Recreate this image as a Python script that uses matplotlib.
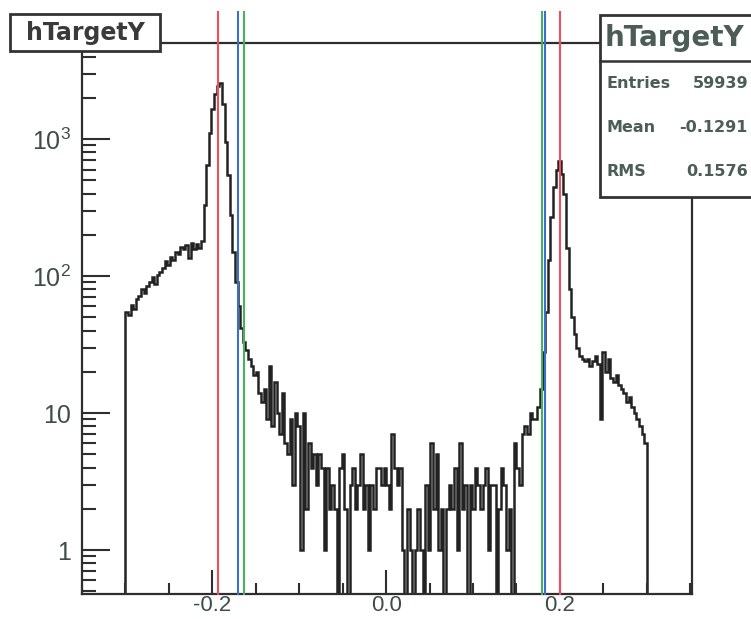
import numpy as np
import matplotlib
matplotlib.use("Agg")
from matplotlib import pyplot as plt
from matplotlib.patches import Rectangle

# histogram binning (-0.3 .. 0.3, 200 bins)
x_lo, x_hi, n_bins = -0.3, 0.3, 200

# counts per bin
counts_left = [55, 52, 62, 58, 68, 72, 80, 75, 85, 90,
               98, 88, 102, 108, 115, 128, 120, 138, 132, 150,
               145, 162, 158, 170, 135, 175, 158, 172, 160, 180,
               330, 650, 1100, 1650, 2150, 2450, 2550, 1800, 950, 550,
               280, 150, 90, 60, 42, 33, 29, 25, 22, 19,
               20, 14, 12, 15, 9, 22, 8, 17, 10, 7]
counts_mid = [14, 6, 5, 9, 3, 10, 8, 1, 10, 2,
              6, 4, 5, 3, 5, 4, 1, 4, 2, 3,
              2, 0, 4, 5, 2, 0, 3, 4, 2, 3,
              5, 2, 3, 1, 3, 2, 4, 4, 3, 4,
              3, 2, 7, 4, 3, 4, 1, 0, 2, 1,
              0, 1, 2, 1, 0, 3, 1, 6, 2, 5,
              1, 2, 0, 2, 3, 2, 4, 1, 6, 2,
              3, 0, 3, 2, 4, 3, 2, 3, 4, 1,
              3, 3, 0, 2, 4, 3, 1, 2, 0, 6]
counts_right = [4, 3, 7, 8, 7, 10, 9, 9, 11, 15,
                28, 55, 130, 270, 450, 600, 690, 560, 400, 160,
                80, 50, 38, 30, 26, 25, 24, 25, 22, 24,
                26, 23, 9, 28, 20, 25, 18, 17, 19, 16,
                15, 14, 12, 13, 11, 10, 9, 8, 7, 6]

# cut lines
red_cuts = [-0.193, 0.200]
blue_cuts = [-0.171, 0.183]
green_cuts = [-0.164, 0.179]

y_ticks = [1, 10, 100, 1000]
y_labels = ["1", "10", "$10^{2}$", "$10^{3}$"]
x_ticks = [-0.2, 0.0, 0.2]
x_labels = ["-0.2", "0.0", "0.2"]

stat_names = ["Entries", "Mean", "RMS"]
stat_values = ["59939", "-0.1291", "0.1576"]
hist_name = "hTargetY"

counts = np.array(counts_left + counts_mid + counts_right, dtype=float)
edges = np.linspace(x_lo, x_hi, n_bins + 1)

plt.rcParams["mathtext.fontset"] = "custom"
plt.rcParams["mathtext.rm"] = "Liberation Sans"
plt.rcParams["mathtext.it"] = "Liberation Sans"

W, H = 751, 619
fig = plt.figure(figsize=(W / 100, H / 100), dpi=100)
ax = fig.add_axes([82 / W, 25 / H, 610 / W, 551 / H])

ax.stairs(counts, edges, baseline=0, color="#222222", lw=1.8)
ax.set_yscale("log")
ax.set_xlim(-0.35, 0.352)
ax.set_ylim(0.478, 5030)

line_top = (594 - 12) / 551
for xs, col in [(red_cuts, "#f0505e"), (blue_cuts, "#3f6fc4"), (green_cuts, "#48b060")]:
    for xv in xs:
        ax.axvline(xv, ymin=0, ymax=line_top, color=col, lw=1.5, clip_on=False, zorder=3)

for sp in ax.spines.values():
    sp.set_linewidth(1.6)
    sp.set_color("#2e2e2e")

txt_col = "#3f4d47"
ax.set_yticks(y_ticks)
ax.set_yticklabels(y_labels)
ax.set_xticks(x_ticks)
ax.set_xticklabels(x_labels)
ax.set_xticks(np.arange(-0.35, 0.351, 0.05), minor=True)
ax.tick_params(axis="y", which="major", direction="in", length=20, width=1.5,
               pad=8, labelsize=18, labelcolor=txt_col, color="#2e2e2e")
ax.tick_params(axis="y", which="minor", direction="in", length=10, width=1.5,
               color="#2e2e2e")
ax.tick_params(axis="x", which="major", direction="in", length=17, width=1.5,
               pad=0.5, labelsize=16, labelcolor=txt_col, color="#2e2e2e")
ax.tick_params(axis="x", which="minor", direction="in", length=8, width=1.5,
               color="#2e2e2e")
for lab in ax.get_xticklabels() + ax.get_yticklabels():
    lab.set_family("Liberation Sans")

# title box, top left
fig.patches.append(Rectangle((10 / W, 1 - 51 / H), 150 / W, 37 / H,
                             transform=fig.transFigure, facecolor="white",
                             edgecolor="#333333", lw=2, zorder=5))
fig.text(85 / W, 1 - 33 / H, hist_name, ha="center", va="center",
         fontsize=17, fontweight="bold", color="#3a3a3a",
         family="DejaVu Sans", zorder=6)

# stats box, top right
fig.patches.append(Rectangle((600 / W, 1 - 197 / H), 160 / W, 182 / H,
                             transform=fig.transFigure, facecolor="white",
                             edgecolor="#333333", lw=2, zorder=5))
fig.lines.append(plt.Line2D([600 / W, 1], [1 - 61 / H, 1 - 61 / H],
                            transform=fig.transFigure, color="#333333",
                            lw=1.8, zorder=6))
stat_col = "#4b5d55"
fig.text(605 / W, 1 - 38 / H, hist_name, ha="left", va="center",
         fontsize=20, fontweight="bold", color=stat_col,
         family="DejaVu Sans", zorder=6)
for i, (nm, val) in enumerate(zip(stat_names, stat_values)):
    yy = 1 - (84 + 44 * i) / H
    fig.text(607 / W, yy, nm, ha="left", va="center", fontsize=11.5,
             fontweight="bold", color=stat_col, family="DejaVu Sans", zorder=6)
    fig.text(748 / W, yy, val, ha="right", va="center", fontsize=11.5,
             fontweight="bold", color=stat_col, family="DejaVu Sans", zorder=6)

fig.savefig("out.png", dpi=100)
